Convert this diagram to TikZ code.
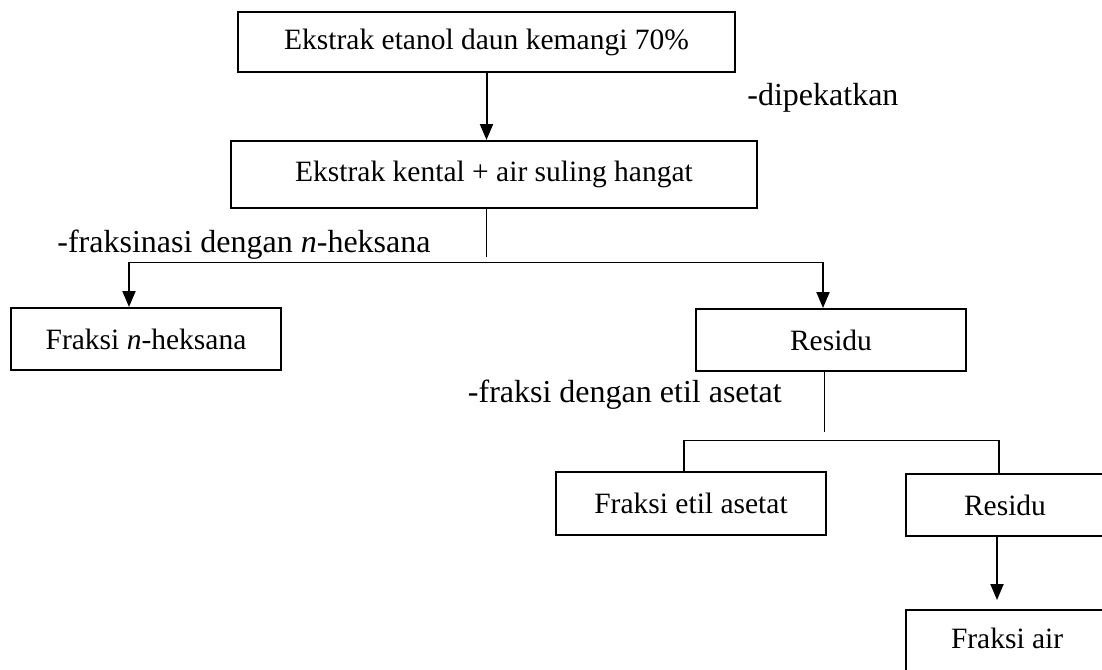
\documentclass[tikz,border=0pt]{standalone}
\usepackage{fontspec}
\setmainfont{Liberation Serif}
\usetikzlibrary{arrows.meta, positioning, calc}

\begin{document}
\begin{tikzpicture}[
    x=0.5pt, y=-0.5pt,
    >={Triangle[width=6.5pt, length=8pt]},
    box/.style={rectangle, draw, line width=1pt, inner sep=0pt,
                font=\fontsize{14.75}{17}\selectfont},
    note/.style={inner sep=0pt, anchor=base west, font=\fontsize{16}{19}\selectfont},
    flow/.style={->, line width=1pt},
    stem/.style={line width=1pt},
    thinline/.style={line width=0.5pt},
]
    \useasboundingbox (0,0) rectangle (1102,669);

    % ── Boxes ─────────────────────────────────────
    \node[box, minimum width=248.5pt, minimum height=30pt] (ekstrak) at (486.5,42)
         {Ekstrak etanol daun kemangi 70\%};
    \node[box, minimum width=263pt, minimum height=33.5pt] (kental) at (494,174.5)
         {Ekstrak kental + air suling hangat};
    \node[box, minimum width=135pt, minimum height=31pt] (heksana) at (146,339)
         {Fraksi \textit{n}-heksana};
    \node[box, minimum width=135pt, minimum height=31pt] (residuA) at (831,340)
         {Residu};
    \node[box, minimum width=135pt, minimum height=31.5pt] (etil) at (691,503.5)
         {Fraksi etil asetat};
    \node[box, anchor=west, inner xsep=29pt, minimum height=31pt] (residuB)
         at (905,505) {\makebox[52pt][l]{Residu}};
    \node[box, anchor=north west, inner xsep=22.5pt, inner ysep=9pt,
          text height=10pt, text depth=12pt] (air)
         at (905,609) {\makebox[60pt][l]{Fraksi air}};

    % ── Notes ─────────────────────────────────────
    \node[note] (dipekat) at (747,105) {-dipekatkan};
    \node[note] (fraksinasi) at (57,252) {-fraksinasi dengan \textit{n}-heksana};
    \node[note, anchor=base east] (etilnote) at (782,402) {-fraksi dengan etil asetat};

    % ── First step ────────────────────────────────
    \draw[flow] (ekstrak.south) -- (ekstrak.south |- kental.north);
    \draw[thinline] (ekstrak.south |- kental.south) -- ++(0,48) coordinate (stemA);
    \coordinate (forkA) at ($(stemA)+(0,5)$);
    \coordinate (heksTop) at ($(heksana.north)+(-17,0)$);
    \coordinate (resATop) at ($(residuA.north)+(-8,0)$);
    \draw[thinline] (heksTop |- forkA) -- (resATop |- forkA);
    \draw[flow] (heksTop |- forkA) -- (heksTop);
    \draw[flow] (resATop |- forkA) -- (resATop);

    % ── Second step ───────────────────────────────
    \draw[thinline] ($(residuA.south)+(-7,0)$) -- ++(0,60) coordinate (stemB);
    \coordinate (forkB) at ($(stemB)+(0,8)$);
    \coordinate (etilTop) at ($(etil.north)+(-7,0)$);
    \coordinate (resBTop) at ($(residuB.north west)+(94,0)$);
    \draw[thinline] (etilTop |- forkB) -- (resBTop |- forkB);
    \draw[stem] (etilTop |- forkB) -- (etilTop);
    \draw[stem] (resBTop |- forkB) -- (resBTop);
    \draw[flow] ($(residuB.south west)+(92,0)$) -- ($(air.north west)+(92,-9)$);
\end{tikzpicture}
\end{document}
